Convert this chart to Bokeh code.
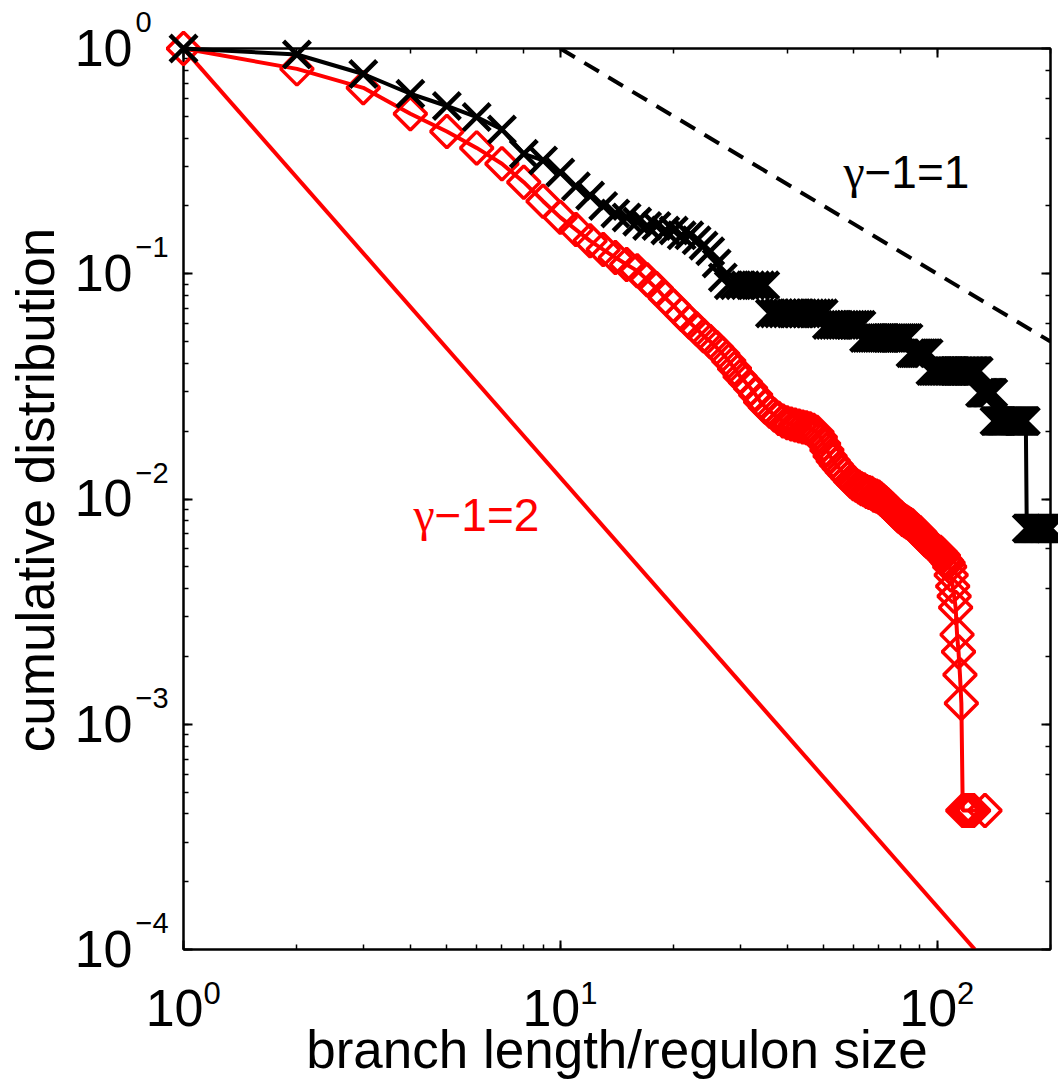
import math
from bokeh.plotting import figure
from bokeh.models import LogAxis, Range1d, ColumnDataSource
from bokeh.core.properties import value
from bokeh.embed import file_html
from bokeh.resources import INLINE

# ---------------- data ----------------
# branch length (black crosses): x = 1..200, cumulative distribution
black_x = [
    1, 2, 3, 4, 5, 6, 7, 8, 9, 10,
    11, 12, 13, 14, 15, 16, 17, 18, 19, 20,
    21, 22, 23, 24, 25, 26, 27, 28, 29, 30,
    31, 32, 33, 34, 35, 36, 37, 38, 39, 40,
    41, 42, 43, 44, 45, 46, 47, 48, 49, 50,
    51, 52, 53, 54, 55, 56, 57, 58, 59, 60,
    61, 62, 63, 64, 65, 66, 67, 68, 69, 70,
    71, 72, 73, 74, 75, 76, 77, 78, 79, 80,
    81, 82, 83, 84, 85, 86, 87, 88, 89, 90,
    91, 92, 93, 94, 95, 96, 97, 98, 99, 100,
    101, 102, 103, 104, 105, 106, 107, 108, 109, 110,
    111, 112, 113, 114, 115, 116, 117, 118, 119, 120,
    121, 122, 123, 124, 125, 126, 127, 128, 129, 130,
    131, 132, 133, 134, 135, 136, 137, 138, 139, 140,
    141, 142, 143, 144, 145, 146, 147, 148, 149, 150,
    151, 152, 153, 154, 155, 156, 157, 158, 159, 160,
    161, 162, 163, 164, 165, 166, 167, 168, 169, 170,
    171, 172, 173, 174, 175, 176, 177, 178, 179, 180,
    181, 182, 183, 184, 185, 186, 187, 188, 189, 190,
    191, 192, 193, 194, 195, 196, 197, 198, 199, 200,
]
black_y = [
    1.0, 0.9407, 0.7704, 0.6296, 0.5556, 0.4963, 0.4370, 0.3407, 0.3185, 0.2815,
    0.2444, 0.2222, 0.2000, 0.1852, 0.1778, 0.1704, 0.1630, 0.1630, 0.1556, 0.1556,
    0.1481, 0.1481, 0.1407, 0.1333, 0.1259, 0.1111, 0.0963, 0.0889, 0.0889, 0.0889,
    0.0889, 0.0889, 0.0889, 0.0889, 0.0889, 0.0667, 0.0667, 0.0667, 0.0667, 0.0667,
    0.0667, 0.0667, 0.0667, 0.0667, 0.0667, 0.0667, 0.0667, 0.0667, 0.0667, 0.0667,
    0.0593, 0.0593, 0.0593, 0.0593, 0.0593, 0.0593, 0.0593, 0.0593, 0.0593, 0.0593,
    0.0593, 0.0593, 0.0593, 0.0519, 0.0519, 0.0519, 0.0519, 0.0519, 0.0519, 0.0519,
    0.0519, 0.0519, 0.0519, 0.0519, 0.0519, 0.0519, 0.0519, 0.0519, 0.0519, 0.0519,
    0.0519, 0.0519, 0.0519, 0.0519, 0.0444, 0.0444, 0.0444, 0.0444, 0.0444, 0.0444,
    0.0444, 0.0444, 0.0444, 0.0444, 0.0444, 0.0370, 0.0370, 0.0370, 0.0370, 0.0370,
    0.0370, 0.0370, 0.0370, 0.0370, 0.0370, 0.0370, 0.0370, 0.0370, 0.0370, 0.0370,
    0.0370, 0.0370, 0.0370, 0.0370, 0.0370, 0.0370, 0.0370, 0.0370, 0.0370, 0.0370,
    0.0370, 0.0370, 0.0370, 0.0370, 0.0370, 0.0370, 0.0370, 0.0370, 0.0370, 0.0296,
    0.0296, 0.0296, 0.0296, 0.0296, 0.0296, 0.0296, 0.0296, 0.0296, 0.0296, 0.0296,
    0.0296, 0.0222, 0.0222, 0.0222, 0.0222, 0.0222, 0.0222, 0.0222, 0.0222, 0.0222,
    0.0222, 0.0222, 0.0222, 0.0222, 0.0222, 0.0222, 0.0222, 0.0222, 0.0222, 0.0222,
    0.0222, 0.0222, 0.0222, 0.0222, 0.0222, 0.0222, 0.0222, 0.0222, 0.0222, 0.0222,
    0.0222, 0.0222, 0.0074, 0.0074, 0.0074, 0.0074, 0.0074, 0.0074, 0.0074, 0.0074,
    0.0074, 0.0074, 0.0074, 0.0074, 0.0074, 0.0074, 0.0074, 0.0074, 0.0074, 0.0074,
    0.0074, 0.0074, 0.0074, 0.0074, 0.0074, 0.0074, 0.0074, 0.0074, 0.0074, 0.0074,
]

# regulon size (red diamonds)
red_x = [
    1, 2, 3, 4, 5, 6, 7, 8, 9, 10,
    11, 12, 13, 14, 15, 16, 17, 18, 19, 20,
    21, 22, 23, 24, 25, 26, 27, 28, 29, 30,
    31, 32, 33, 34, 35, 36, 37, 38, 39, 40,
    41, 42, 43, 44, 45, 46, 47, 48, 49, 50,
    51, 52, 53, 54, 55, 56, 57, 58, 59, 60,
    61, 62, 63, 64, 65, 66, 67, 68, 69, 70,
    71, 72, 73, 74, 75, 76, 77, 78, 79, 80,
    81, 82, 83, 84, 85, 86, 87, 88, 89, 90,
    91, 92, 93, 94, 95, 96, 97, 98, 99, 100,
    101, 102, 103, 104, 105, 106, 107, 108, 109, 110,
    111, 112, 113, 114, 115, 116, 117, 118, 119, 120,
    121, 122, 123, 124, 125, 134,
]
red_y = [
    1.0, 0.812, 0.669, 0.513, 0.428, 0.362, 0.308, 0.255, 0.210, 0.178,
    0.157, 0.140, 0.128, 0.118, 0.110, 0.103, 0.094, 0.086, 0.078, 0.072,
    0.066, 0.061, 0.057, 0.053, 0.050, 0.047, 0.044, 0.041, 0.038, 0.035,
    0.033, 0.031, 0.029, 0.027, 0.0256, 0.0245, 0.0236, 0.0228, 0.0222, 0.0218,
    0.0215, 0.0213, 0.0211, 0.0209, 0.0207, 0.0205, 0.0202, 0.0198, 0.0188, 0.0176,
    0.0165, 0.0155, 0.0148, 0.0142, 0.0137, 0.0132, 0.0128, 0.0124, 0.0120, 0.0117,
    0.0115, 0.0113, 0.0111, 0.0110, 0.0108, 0.0107, 0.0106, 0.0104, 0.0103, 0.0102,
    0.0100, 0.0098, 0.0096, 0.0094, 0.0092, 0.0090, 0.0088, 0.0086, 0.0084, 0.0083,
    0.0081, 0.0080, 0.0079, 0.0078, 0.0077, 0.0076, 0.0074, 0.0073, 0.0072, 0.0071,
    0.0069, 0.0068, 0.0066, 0.0065, 0.0064, 0.0063, 0.0062, 0.0061, 0.0060, 0.0059,
    0.0058, 0.0058, 0.0057, 0.0056, 0.0054, 0.0053, 0.0052, 0.0050, 0.0046, 0.0041,
    0.0037, 0.0033, 0.0025, 0.0021, 0.00166, 0.00124, 0.000414, 0.000414, 0.000414, 0.000414,
    0.000414, 0.000414, 0.000414, 0.000414, 0.000414, 0.000414,
]

# reference power laws (end points)
ref1_x = [10.0, 200.0]      # gamma-1 = 1 (dashed)
ref1_y = [1.0, 0.05]
ref2_x = [1.0, 126.0]       # gamma-1 = 2 (solid red)
ref2_y = [1.0, 1.0e-4]

# tick labels (base 10 with superscript exponent)
x_ticks = [1, 10, 100]
x_tick_exp = ["0", "1", "2"]
y_ticks = [1.0, 0.1, 0.01, 0.001, 0.0001]
y_tick_exp = ["0", "\u22121", "\u22122", "\u22123", "\u22124"]

x_title = "branch length/regulon size"
y_title = "cumulative distribution"
label1_pos = (56.45, 0.2439)     # "γ−1=1"
label2_pos = (4.077, 0.00730)    # "γ−1=2"
label_rest1 = "\u22121=1"
label_rest2 = "\u22121=2"
gamma_char = "\u03b3"

x_limits = (1, 200)
y_limits = (1e-4, 1)

# ---------------- figure ----------------
FONT = "Liberation Sans"
GFONT = "Liberation Serif"
W, H = 1058, 1086
BL, BT = 183, 48
FW, FH = 867, 901
BASE_SHIFT = 0.32   # correction so that the anchor lands on the text baseline

p = figure(width=W, height=H,
           x_axis_type="log", y_axis_type="log",
           x_range=Range1d(*x_limits), y_range=Range1d(*y_limits),
           output_backend="svg", toolbar_location=None,
           min_border_left=BL, min_border_right=W - BL - FW,
           min_border_top=BT, min_border_bottom=H - BT - FH)

p.background_fill_color = "white"
p.border_fill_color = "white"
p.outline_line_color = "black"
p.outline_line_width = 2
p.xgrid.visible = False
p.ygrid.visible = False


def style_axis(ax):
    ax.major_label_text_font_size = "0px"
    ax.major_label_text_color = None
    ax.major_label_standoff = 0
    ax.major_tick_in = 9
    ax.major_tick_out = 0
    ax.minor_tick_in = 5
    ax.minor_tick_out = 0
    ax.axis_line_width = 2
    ax.major_tick_line_width = 2
    ax.minor_tick_line_width = 1.5


style_axis(p.xaxis[0])
style_axis(p.yaxis[0])
top_ax = LogAxis()
right_ax = LogAxis()
style_axis(top_ax)
style_axis(right_ax)
p.add_layout(top_ax, "above")
p.add_layout(right_ax, "right")

# pixel helpers for placing texts around the frame (log scales)
XPD = FW / math.log10(x_limits[1] / x_limits[0])
YPD = FH / math.log10(y_limits[1] / y_limits[0])


def x_at(x0, dpx):
    return x0 * 10 ** (dpx / XPD)


def y_at(y0, dpx_up):
    return y0 * 10 ** (dpx_up / YPD)


def put_text(x, y, txt, size, color="black", align="left", angle=0.0, font=FONT):
    shift = BASE_SHIFT * size
    if angle == 0.0:
        y = y_at(y, shift)
    else:
        x = x_at(x, -shift)
    p.text(x=[x], y=[y], text=[txt], angle=angle,
           text_font=value(font), text_font_size=value(f"{size}px"),
           text_color=color, text_align=align, text_baseline="alphabetic",
           level="overlay")


# reference lines
p.line(ref2_x, ref2_y, line_color="red", line_width=4)
p.line(ref1_x, ref1_y, line_color="black", line_width=4, line_dash="17 11")

# red: regulon size
red_src = ColumnDataSource(dict(x=red_x, y=red_y))
p.line("x", "y", source=red_src, line_color="red", line_width=4)
p.scatter("x", "y", source=red_src, marker="square", angle=math.pi / 4,
          size=23, fill_color=None, line_color="red", line_width=3.5,
          level="overlay")

# black: branch length
blk_src = ColumnDataSource(dict(x=black_x, y=black_y))
p.line("x", "y", source=blk_src, line_color="black", line_width=4,
       level="overlay")
p.scatter("x", "y", source=blk_src, marker="x", size=38,
          line_color="black", line_width=4.5, level="overlay")

# ---- tick labels ----
for t, e in zip(x_ticks, x_tick_exp):
    put_text(x_at(t, 20), y_at(y_limits[0], -75.5), "10", 52, align="right")
    put_text(x_at(t, 20), y_at(y_limits[0], -53.5), e, 31, align="left")
for t, e in zip(y_ticks, y_tick_exp):
    put_text(x_at(x_limits[0], -51), y_at(t, -16), "10", 52, align="right")
    put_text(x_at(x_limits[0], -48), y_at(t, 17), e, 29, align="left")

# ---- axis titles ----
put_text(math.sqrt(x_limits[0] * x_limits[1]), y_at(y_limits[0], -117),
         x_title, 53, align="center")
put_text(x_at(x_limits[0], -131), y_at(math.sqrt(y_limits[0] * y_limits[1]), 9),
         y_title, 53, align="center", angle=math.pi / 2)

# ---- power-law annotations ----
for (lx, ly), rest, col in ((label1_pos, label_rest1, "black"),
                            (label2_pos, label_rest2, "red")):
    put_text(lx, ly, gamma_char, 48, color=col, font=GFONT)
    put_text(x_at(lx, 21), ly, rest, 46, color=col)

open("out.html", "w").write(file_html(p, INLINE))
